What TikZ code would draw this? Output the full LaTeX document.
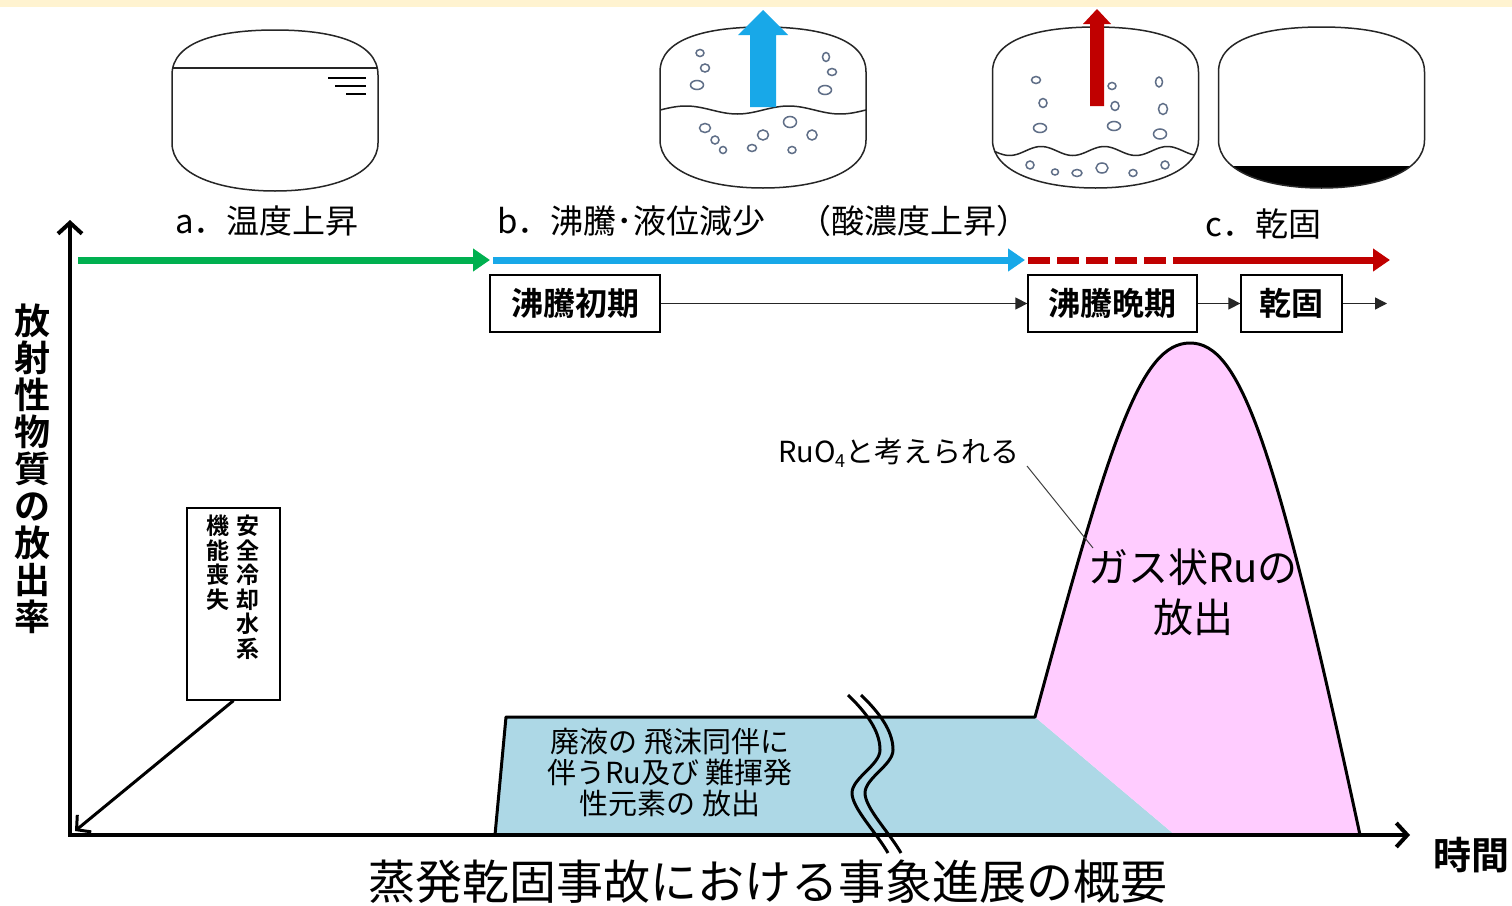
\documentclass[tikz,border=0pt]{standalone}
\usepackage{fontspec}
\setmainfont{Noto Sans CJK JP}[BoldFont={Noto Sans CJK JP Bold}]
\usetikzlibrary{arrows.meta}

\definecolor{bandyellow}{RGB}{255,243,208}
\definecolor{phasegreen}{RGB}{0,176,80}
\definecolor{phaseblue}{RGB}{24,168,232}
\definecolor{phasered}{RGB}{192,0,0}
\definecolor{aerosolblue}{RGB}{173,216,230}
\definecolor{gaspink}{RGB}{255,204,255}
\definecolor{bubble}{RGB}{95,110,135}

\newcommand\fsz[2]{\fontsize{#1}{#2}\selectfont}
% tank outline centred on x = 0 (y grows downwards)
\newcommand\tankoutline{(-103,72) .. controls (-103,38) and (-55,27) .. (0,27) .. controls (55,27) and (103,38) .. (103,72) -- (103,140) .. controls (103,172) and (55,188) .. (0,188) .. controls (-55,188) and (-103,172) .. (-103,140) -- cycle}

\tikzset{
  tankline/.style={draw=black!85, line width=1.5pt},
  bub/.style={draw=bubble, line width=1.5pt},
  phase/.style={line width=7pt},
  phasetip/.style={-{Triangle[length=17pt,width=22pt]}},
  stagebox/.style={draw, line width=1.3pt, minimum height=57pt, inner sep=0pt, font={\bfseries\fsz{32}{32}}},
  stagearrow/.style={line width=1.3pt, draw=black!85, -{Triangle[length=12pt,width=12pt]}},
  axis/.style={line width=4pt, {Straight Barb[length=11pt,width=24pt]}-{Straight Barb[length=11pt,width=24pt]}},
  hdr/.style={anchor=west, inner sep=0pt, font={\fsz{33}{33}}},
  outline/.style={line width=3pt, line join=round},
}

\begin{document}
\begin{tikzpicture}[x=1pt,y=-1pt]
\useasboundingbox (0,0) rectangle (1512,905);
\fill[white] (0,0) rectangle (1512,905);
\fill[bandyellow] (0,0) rectangle (1512,7);

% ---- tank 1: liquid heating up
\begin{scope}[shift={(275,3)}]
  \draw[tankline] \tankoutline;
  \draw[tankline] (-102,65) -- (102,65);
  \draw[line width=1.4pt] (53,75) -- (91,75) (60,83) -- (91,83) (71,91) -- (91,91);
\end{scope}

% ---- tank 2: boiling, level going down
\begin{scope}[shift={(763,0)}]
  \begin{scope}
    \clip \tankoutline;
    \draw[tankline] plot[domain=-106:106, samples=80] (\x,{110-4*sin(\x*3.5)});
  \end{scope}
  \draw[tankline] \tankoutline;
\end{scope}
\foreach \cx/\cy/\rx/\ry in {700/53/4/3.5, 705/68/4.5/4, 697/85/6.5/4.5, 826/57/3.5/4.5, 832/72/4.5/3.5, 825/90/6.5/4.5,
  705/128/5.5/4.5, 715/140/4/4, 723/150/3.5/3.5, 752/148/4.5/3.5, 763/135/5.5/5, 790/122/6.5/5.5, 812/135/5/5, 792/150/4/3.5}
  \draw[bub] (\cx,\cy) ellipse [x radius=\rx, y radius=\ry];
\fill[phaseblue] (750,107) -- (750,35) -- (738,35) -- (763,10) -- (788,35) -- (776,35) -- (776,107) -- cycle;

% ---- tank 3: late boiling
\begin{scope}[shift={(1095.5,0)}]
  \begin{scope}
    \clip \tankoutline;
    \draw[tankline] plot[domain=-106:106, samples=80] (\x,{151-4.5*sin(\x*5.7+40)});
  \end{scope}
  \draw[tankline] \tankoutline;
\end{scope}
\foreach \cx/\cy/\rx/\ry in {1036/80/4.5/3.5, 1043/103/4/4.5, 1040/128/6.5/4.5, 1112/86/4/3.5, 1115/106/4/4.5, 1114/126/6.5/4.5,
  1159/82/3.5/5, 1163/109/4.5/5.5, 1160/134/6.5/5, 1030/165/4/4, 1055/172/3.5/3, 1077/173/5/3.5, 1102/168/6/5, 1133/173/4/3.5, 1165/165/4/4}
  \draw[bub] (\cx,\cy) ellipse [x radius=\rx, y radius=\ry];
\fill[phasered] (1090,106) -- (1090,24) -- (1083,24) -- (1097,9) -- (1111,24) -- (1104,24) -- (1104,106) -- cycle;

% ---- tank 4: dried residue
\begin{scope}[shift={(1321.5,0)}]
  \begin{scope}
    \clip \tankoutline;
    \fill[black] (-110,166) rectangle (110,195);
  \end{scope}
  \draw[tankline] \tankoutline;
\end{scope}

% ---- phase headings
\node[hdr] (ha) at (175,221) {a．温度上昇};
\node[hdr] (hb) at (497,221) {b．沸騰･液位減少　（酸濃度上昇）};
\node[hdr] (hc) at (1205,224) {c．乾固};

\coordinate (pg0) at (78,260);  \coordinate (pg1) at (490,260);
\coordinate (pb0) at (493,260); \coordinate (pb1) at (1025,260);
\coordinate (pr0) at (1028,260); \coordinate (pr1) at (1192,260); \coordinate (pr2) at (1390,260);
\draw[phase, phaseblue, phasetip] (pb0) -- (pb1);
\draw[phase, phasegreen, phasetip] (pg0) -- (pg1);
\draw[phase, phasered, dash pattern=on 22pt off 7pt] (pr0) -- (pr1);
\draw[phase, phasered, phasetip] (pr1) -- (pr2);

% ---- stage boxes
\node[stagebox, minimum width=170pt] (s1) at (575,303.5) {沸騰初期};
\node[stagebox, minimum width=169pt] (s2) at (1112.5,303.5) {沸騰晩期};
\node[stagebox, minimum width=101pt] (s3) at (1291.5,303.5) {乾固};
\coordinate (s4) at (1387,303.5);
\draw[stagearrow] (s1) -- (s2);
\draw[stagearrow] (s2) -- (s3);
\draw[stagearrow] (s3) -- (s4);

% ---- release curves
\fill[aerosolblue] (495,835) -- (506,717) -- (1035,717) -- (1175,835) -- cycle;
\fill[gaspink] (1035,717) .. controls (1110,440) and (1140,343) .. (1190,343) .. controls (1240,343) and (1275,440) .. (1360,835) -- (1175,835) -- cycle;
\draw[outline] (495,835) -- (506,717) -- (1035,717) .. controls (1110,440) and (1140,343) .. (1190,343) .. controls (1240,343) and (1275,440) .. (1360,835);

% ---- axes
\coordinate (O) at (70,835);
\coordinate (ytop) at (70,220);
\coordinate (xend) at (1410,835);
\coordinate (Oin) at (75,831);
\draw[axis] (ytop) -- (O) -- (xend);

% ---- break mark
\foreach \d in {0,13}
  \draw[line width=3pt, xshift=\d pt] (848,695) .. controls (872,718) and (880,735) .. (880,750) .. controls (880,765) and (852,778) .. (852,793) .. controls (852,808) and (876,832) .. (888,853);

% ---- labels
\node[font={\bfseries\fsz{36}{37}}, align=center, inner sep=0pt] (ylab) at (32,469) {放\\射\\性\\物\\質\\の\\放\\出\\率};
\node[font={\bfseries\fsz{38}{38}}, inner sep=0pt] (xlab) at (1471,855) {時間};

\node[draw, line width=1.2pt, minimum width=93pt, minimum height=192pt, inner sep=0pt] (vb) at (233.5,604) {};
\node[font={\bfseries\fsz{23}{24.5}}, align=center, anchor=north, inner sep=0pt] (vt1) at (248,515) {安\\全\\冷\\却\\水\\系};
\node[font={\bfseries\fsz{23}{24.5}}, align=center, anchor=north, inner sep=0pt] (vt2) at (218,515) {機\\能\\喪\\失};
\draw[line width=3pt, -{Straight Barb[length=10pt,width=22pt]}] (vb.south) -- (Oin);

\node[font={\fsz{29}{31}}, align=center, inner sep=0pt] (aer) at (670,772) {廃液の 飛沫同伴に\\伴うRu及び 難揮発\\性元素の 放出};

\node[font={\fsz{29}{29}}, anchor=west, inner sep=0pt] (ruo) at (778,453) {RuO\raisebox{-5pt}{\fsz{18}{18}4}と考えられる};
\draw[line width=1pt, black!75] (1027,466) -- (1093,548);
\node[font={\fsz{40}{50}}, align=center, inner sep=0pt] (gas) at (1193,592) {ガス状Ruの\\放出};

\node[font={\fsz{47}{47}}, inner sep=0pt] (title) at (768,882) {蒸発乾固事故における事象進展の概要};
\end{tikzpicture}
\end{document}
